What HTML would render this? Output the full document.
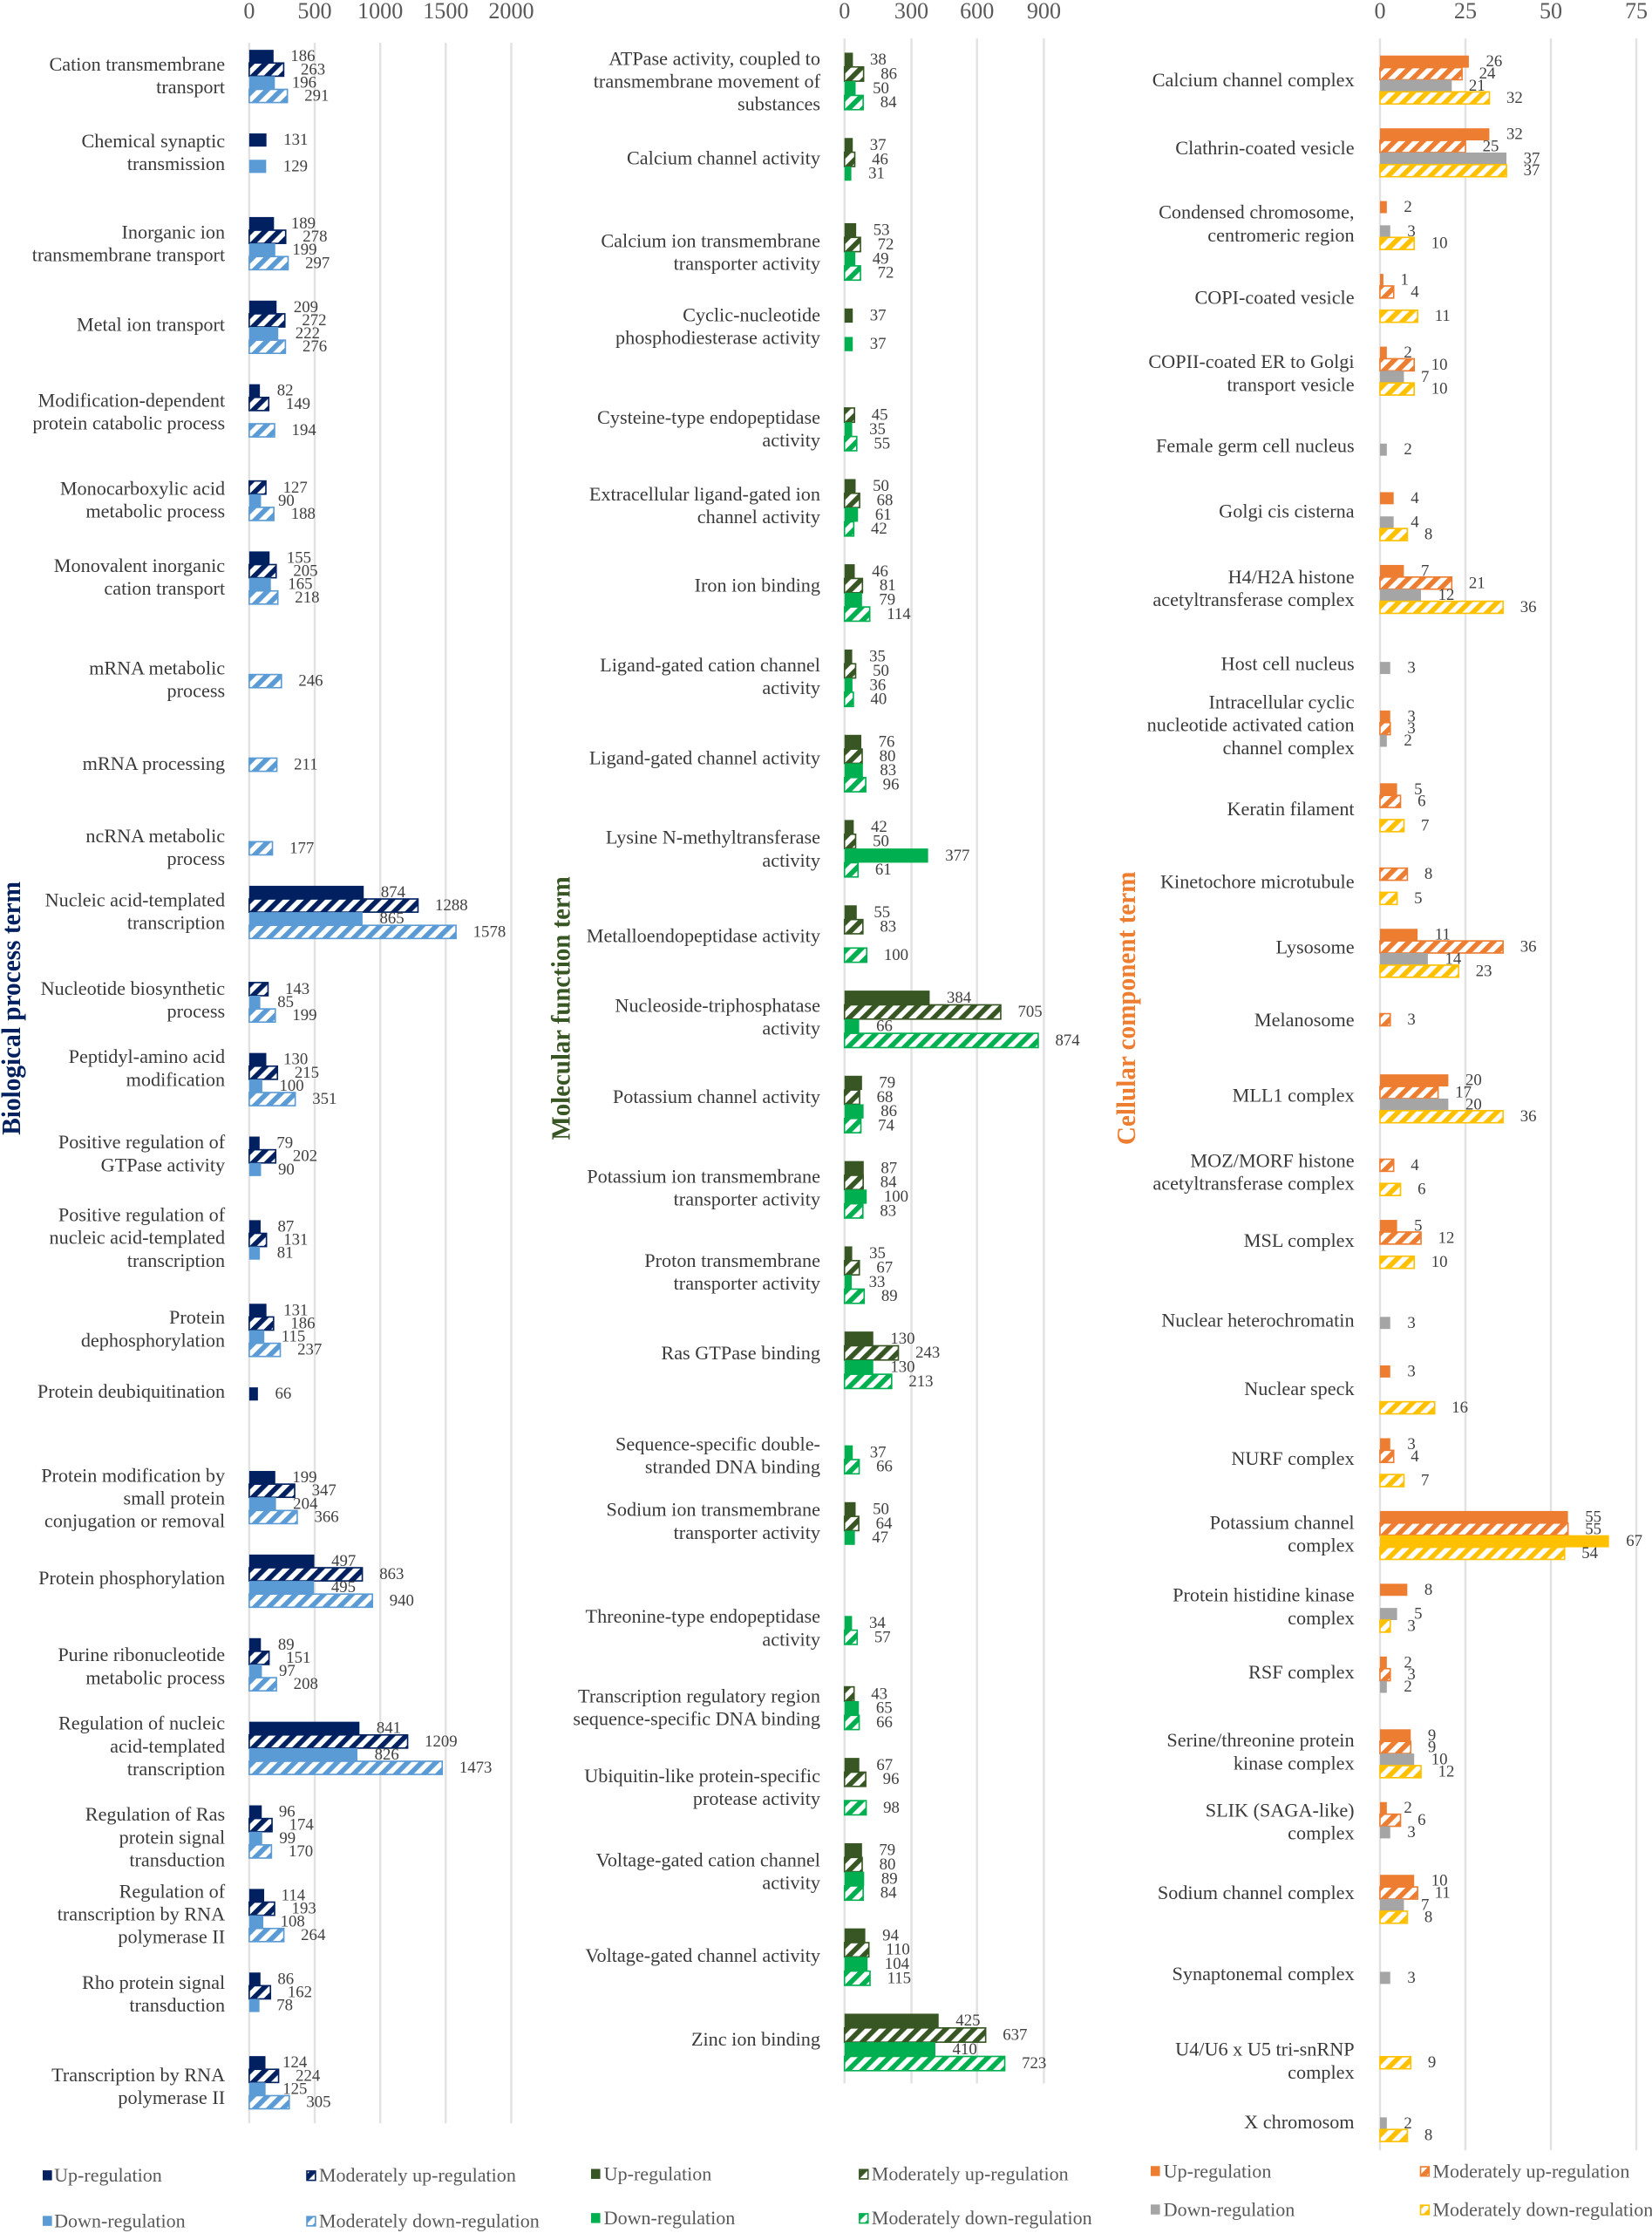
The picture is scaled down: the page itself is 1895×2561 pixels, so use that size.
<!DOCTYPE html>
<html><head><meta charset="utf-8"><style>
html,body{margin:0;padding:0;background:#fff}
svg{display:block}
text{font-family:"Liberation Serif",serif}
.l{font-size:13.6px;fill:#3a3a3a;text-anchor:end}
.v{font-size:11.5px;fill:#404040;dominant-baseline:central}
.t{font-size:16px;fill:#595959;text-anchor:middle}
.g{stroke:#e2e2e2;stroke-width:1.5}
.lg{font-size:13.5px;fill:#595959}
.b0{fill:#002060}.b1{fill:url(#pb1);stroke:#002060;stroke-width:1}.b2{fill:#5B9BD5}.b3{fill:url(#pb3);stroke:#5B9BD5;stroke-width:1}
.m0{fill:#375623}.m1{fill:url(#pm1);stroke:#375623;stroke-width:1}.m2{fill:#00B050}.m3{fill:url(#pm3);stroke:#00B050;stroke-width:1}
.c0{fill:#ED7D31}.c1{fill:url(#pc1);stroke:#ED7D31;stroke-width:1}.c2{fill:#A5A5A5}.c3{fill:url(#pc3);stroke:#FFC000;stroke-width:1}.cy{fill:#FFC000}
</style></head><body>
<svg width="1895" height="2561" viewBox="0 0 1160 1568" preserveAspectRatio="none" xmlns="http://www.w3.org/2000/svg">
<defs>
<pattern id="pb1" width="7" height="7" patternUnits="userSpaceOnUse" patternTransform="rotate(45)"><rect width="7" height="7" fill="#fff"/><rect width="3.5" height="7" fill="#002060"/></pattern>
<pattern id="pb3" width="7" height="7" patternUnits="userSpaceOnUse" patternTransform="rotate(45)"><rect width="7" height="7" fill="#fff"/><rect width="3.5" height="7" fill="#5B9BD5"/></pattern>
<pattern id="pm1" width="7" height="7" patternUnits="userSpaceOnUse" patternTransform="rotate(45)"><rect width="7" height="7" fill="#fff"/><rect width="3.5" height="7" fill="#375623"/></pattern>
<pattern id="pm3" width="7" height="7" patternUnits="userSpaceOnUse" patternTransform="rotate(45)"><rect width="7" height="7" fill="#fff"/><rect width="3.5" height="7" fill="#00B050"/></pattern>
<pattern id="pc1" width="7" height="7" patternUnits="userSpaceOnUse" patternTransform="rotate(45)"><rect width="7" height="7" fill="#fff"/><rect width="3.5" height="7" fill="#ED7D31"/></pattern>
<pattern id="pc3" width="7" height="7" patternUnits="userSpaceOnUse" patternTransform="rotate(45)"><rect width="7" height="7" fill="#fff"/><rect width="3.5" height="7" fill="#FFC000"/></pattern>
</defs>

<!-- ===== BP panel ===== -->
<g>
<line class="g" x1="175" y1="30" x2="175" y2="1491"/><line class="g" x1="221" y1="30" x2="221" y2="1491"/><line class="g" x1="267" y1="30" x2="267" y2="1491"/><line class="g" x1="313" y1="30" x2="313" y2="1491"/><line class="g" x1="359" y1="30" x2="359" y2="1491"/>
<text class="t" x="175" y="13">0</text><text class="t" x="221" y="13">500</text><text class="t" x="267" y="13">1000</text><text class="t" x="313" y="13">1500</text><text class="t" x="359" y="13">2000</text>
<text transform="translate(14,708) rotate(-90)" text-anchor="middle" font-size="19" font-weight="bold" fill="#002060" textLength="178" lengthAdjust="spacingAndGlyphs">Biological process term</text>
</g>
<g transform="translate(175,0)">
<text class="l" x="-17" y="49.5">Cation transmembrane<tspan x="-17" dy="16">transport</tspan></text>
<text class="l" x="-17" y="103.5">Chemical synaptic<tspan x="-17" dy="16">transmission</tspan></text>
<text class="l" x="-17" y="167.5">Inorganic ion<tspan x="-17" dy="16">transmembrane transport</tspan></text>
<text class="l" x="-17" y="232.5">Metal ion transport</text>
<text class="l" x="-17" y="285.5">Modification-dependent<tspan x="-17" dy="16">protein catabolic process</tspan></text>
<text class="l" x="-17" y="347.5">Monocarboxylic acid<tspan x="-17" dy="16">metabolic process</tspan></text>
<text class="l" x="-17" y="401.5">Monovalent inorganic<tspan x="-17" dy="16">cation transport</tspan></text>
<text class="l" x="-17" y="473.5">mRNA metabolic<tspan x="-17" dy="16">process</tspan></text>
<text class="l" x="-17" y="540.5">mRNA processing</text>
<text class="l" x="-17" y="591.5">ncRNA metabolic<tspan x="-17" dy="16">process</tspan></text>
<text class="l" x="-17" y="636.5">Nucleic acid-templated<tspan x="-17" dy="16">transcription</tspan></text>
<text class="l" x="-17" y="698.5">Nucleotide biosynthetic<tspan x="-17" dy="16">process</tspan></text>
<text class="l" x="-17" y="746.5">Peptidyl-amino acid<tspan x="-17" dy="16">modification</tspan></text>
<text class="l" x="-17" y="806.5">Positive regulation of<tspan x="-17" dy="16">GTPase activity</tspan></text>
<text class="l" x="-17" y="857.5">Positive regulation of<tspan x="-17" dy="16">nucleic acid-templated</tspan><tspan x="-17" dy="16">transcription</tspan></text>
<text class="l" x="-17" y="929.5">Protein<tspan x="-17" dy="16">dephosphorylation</tspan></text>
<text class="l" x="-17" y="981.5">Protein deubiquitination</text>
<text class="l" x="-17" y="1040.5">Protein modification by<tspan x="-17" dy="16">small protein</tspan><tspan x="-17" dy="16">conjugation or removal</tspan></text>
<text class="l" x="-17" y="1112.5">Protein phosphorylation</text>
<text class="l" x="-17" y="1166.5">Purine ribonucleotide<tspan x="-17" dy="16">metabolic process</tspan></text>
<text class="l" x="-17" y="1214.5">Regulation of nucleic<tspan x="-17" dy="16">acid-templated</tspan><tspan x="-17" dy="16">transcription</tspan></text>
<text class="l" x="-17" y="1278.5">Regulation of Ras<tspan x="-17" dy="16">protein signal</tspan><tspan x="-17" dy="16">transduction</tspan></text>
<text class="l" x="-17" y="1332.5">Regulation of<tspan x="-17" dy="16">transcription by RNA</tspan><tspan x="-17" dy="16">polymerase II</tspan></text>
<text class="l" x="-17" y="1396.5">Rho protein signal<tspan x="-17" dy="16">transduction</tspan></text>
<text class="l" x="-17" y="1461.5">Transcription by RNA<tspan x="-17" dy="16">polymerase II</tspan></text>

<g transform="translate(0,53.5)"><rect class="b0" y="-18.5" width="17.1" height="9.25"/><rect class="b1" y="-9.25" width="24.2" height="9.25"/><rect class="b2" y="0" width="18" height="9.25"/><rect class="b3" y="9.25" width="26.8" height="9.25"/><text class="v" x="29.1" y="-13.9">186</text><text class="v" x="36.2" y="-4.6">263</text><text class="v" x="30" y="4.6">196</text><text class="v" x="38.8" y="13.9">291</text></g>
<g transform="translate(0,112.2)"><rect class="b0" y="-18.5" width="12.1" height="9.25"/><rect class="b2" y="0" width="11.9" height="9.25"/><text class="v" x="24.1" y="-13.9">131</text><text class="v" x="23.9" y="4.6">129</text></g>
<g transform="translate(0,170.9)"><rect class="b0" y="-18.5" width="17.4" height="9.25"/><rect class="b1" y="-9.25" width="25.6" height="9.25"/><rect class="b2" y="0" width="18.3" height="9.25"/><rect class="b3" y="9.25" width="27.3" height="9.25"/><text class="v" x="29.4" y="-13.9">189</text><text class="v" x="37.6" y="-4.6">278</text><text class="v" x="30.3" y="4.6">199</text><text class="v" x="39.3" y="13.9">297</text></g>
<g transform="translate(0,229.6)"><rect class="b0" y="-18.5" width="19.2" height="9.25"/><rect class="b1" y="-9.25" width="25" height="9.25"/><rect class="b2" y="0" width="20.4" height="9.25"/><rect class="b3" y="9.25" width="25.4" height="9.25"/><text class="v" x="31.2" y="-13.9">209</text><text class="v" x="37" y="-4.6">272</text><text class="v" x="32.4" y="4.6">222</text><text class="v" x="37.4" y="13.9">276</text></g>
<g transform="translate(0,288.3)"><rect class="b0" y="-18.5" width="7.5" height="9.25"/><rect class="b1" y="-9.25" width="13.7" height="9.25"/><rect class="b3" y="9.25" width="17.8" height="9.25"/><text class="v" x="19.5" y="-13.9">82</text><text class="v" x="25.7" y="-4.6">149</text><text class="v" x="29.8" y="13.9">194</text></g>
<g transform="translate(0,347)"><rect class="b1" y="-9.25" width="11.7" height="9.25"/><rect class="b2" y="0" width="8.3" height="9.25"/><rect class="b3" y="9.25" width="17.3" height="9.25"/><text class="v" x="23.7" y="-4.6">127</text><text class="v" x="20.3" y="4.6">90</text><text class="v" x="29.3" y="13.9">188</text></g>
<g transform="translate(0,405.7)"><rect class="b0" y="-18.5" width="14.3" height="9.25"/><rect class="b1" y="-9.25" width="18.9" height="9.25"/><rect class="b2" y="0" width="15.2" height="9.25"/><rect class="b3" y="9.25" width="20.1" height="9.25"/><text class="v" x="26.3" y="-13.9">155</text><text class="v" x="30.9" y="-4.6">205</text><text class="v" x="27.2" y="4.6">165</text><text class="v" x="32.1" y="13.9">218</text></g>
<g transform="translate(0,464.4)"><rect class="b3" y="9.25" width="22.6" height="9.25"/><text class="v" x="34.6" y="13.9">246</text></g>
<g transform="translate(0,523.1)"><rect class="b3" y="9.25" width="19.4" height="9.25"/><text class="v" x="31.4" y="13.9">211</text></g>
<g transform="translate(0,581.8)"><rect class="b3" y="9.25" width="16.3" height="9.25"/><text class="v" x="28.3" y="13.9">177</text></g>
<g transform="translate(0,640.5)"><rect class="b0" y="-18.5" width="80.4" height="9.25"/><rect class="b1" y="-9.25" width="118.5" height="9.25"/><rect class="b2" y="0" width="79.6" height="9.25"/><rect class="b3" y="9.25" width="145.2" height="9.25"/><text class="v" x="92.4" y="-13.9">874</text><text class="v" x="130.5" y="-4.6">1288</text><text class="v" x="91.6" y="4.6">865</text><text class="v" x="157.2" y="13.9">1578</text></g>
<g transform="translate(0,699.2)"><rect class="b1" y="-9.25" width="13.2" height="9.25"/><rect class="b2" y="0" width="7.8" height="9.25"/><rect class="b3" y="9.25" width="18.3" height="9.25"/><text class="v" x="25.2" y="-4.6">143</text><text class="v" x="19.8" y="4.6">85</text><text class="v" x="30.3" y="13.9">199</text></g>
<g transform="translate(0,757.9)"><rect class="b0" y="-18.5" width="12" height="9.25"/><rect class="b1" y="-9.25" width="19.8" height="9.25"/><rect class="b2" y="0" width="9.2" height="9.25"/><rect class="b3" y="9.25" width="32.3" height="9.25"/><text class="v" x="24" y="-13.9">130</text><text class="v" x="31.8" y="-4.6">215</text><text class="v" x="21.2" y="4.6">100</text><text class="v" x="44.3" y="13.9">351</text></g>
<g transform="translate(0,816.6)"><rect class="b0" y="-18.5" width="7.3" height="9.25"/><rect class="b1" y="-9.25" width="18.6" height="9.25"/><rect class="b2" y="0" width="8.3" height="9.25"/><text class="v" x="19.3" y="-13.9">79</text><text class="v" x="30.6" y="-4.6">202</text><text class="v" x="20.3" y="4.6">90</text></g>
<g transform="translate(0,875.3)"><rect class="b0" y="-18.5" width="8" height="9.25"/><rect class="b1" y="-9.25" width="12.1" height="9.25"/><rect class="b2" y="0" width="7.5" height="9.25"/><text class="v" x="20" y="-13.9">87</text><text class="v" x="24.1" y="-4.6">131</text><text class="v" x="19.5" y="4.6">81</text></g>
<g transform="translate(0,934)"><rect class="b0" y="-18.5" width="12.1" height="9.25"/><rect class="b1" y="-9.25" width="17.1" height="9.25"/><rect class="b2" y="0" width="10.6" height="9.25"/><rect class="b3" y="9.25" width="21.8" height="9.25"/><text class="v" x="24.1" y="-13.9">131</text><text class="v" x="29.1" y="-4.6">186</text><text class="v" x="22.6" y="4.6">115</text><text class="v" x="33.8" y="13.9">237</text></g>
<g transform="translate(0,992.7)"><rect class="b0" y="-18.5" width="6.1" height="9.25"/><text class="v" x="18.1" y="-13.9">66</text></g>
<g transform="translate(0,1051.4)"><rect class="b0" y="-18.5" width="18.3" height="9.25"/><rect class="b1" y="-9.25" width="31.9" height="9.25"/><rect class="b2" y="0" width="18.8" height="9.25"/><rect class="b3" y="9.25" width="33.7" height="9.25"/><text class="v" x="30.3" y="-13.9">199</text><text class="v" x="43.9" y="-4.6">347</text><text class="v" x="30.8" y="4.6">204</text><text class="v" x="45.7" y="13.9">366</text></g>
<g transform="translate(0,1110.1)"><rect class="b0" y="-18.5" width="45.7" height="9.25"/><rect class="b1" y="-9.25" width="79.4" height="9.25"/><rect class="b2" y="0" width="45.5" height="9.25"/><rect class="b3" y="9.25" width="86.5" height="9.25"/><text class="v" x="57.7" y="-13.9">497</text><text class="v" x="91.4" y="-4.6">863</text><text class="v" x="57.5" y="4.6">495</text><text class="v" x="98.5" y="13.9">940</text></g>
<g transform="translate(0,1168.8)"><rect class="b0" y="-18.5" width="8.2" height="9.25"/><rect class="b1" y="-9.25" width="13.9" height="9.25"/><rect class="b2" y="0" width="8.9" height="9.25"/><rect class="b3" y="9.25" width="19.1" height="9.25"/><text class="v" x="20.2" y="-13.9">89</text><text class="v" x="25.9" y="-4.6">151</text><text class="v" x="20.9" y="4.6">97</text><text class="v" x="31.1" y="13.9">208</text></g>
<g transform="translate(0,1227.5)"><rect class="b0" y="-18.5" width="77.4" height="9.25"/><rect class="b1" y="-9.25" width="111.2" height="9.25"/><rect class="b2" y="0" width="76" height="9.25"/><rect class="b3" y="9.25" width="135.5" height="9.25"/><text class="v" x="89.4" y="-13.9">841</text><text class="v" x="123.2" y="-4.6">1209</text><text class="v" x="88" y="4.6">826</text><text class="v" x="147.5" y="13.9">1473</text></g>
<g transform="translate(0,1286.2)"><rect class="b0" y="-18.5" width="8.8" height="9.25"/><rect class="b1" y="-9.25" width="16" height="9.25"/><rect class="b2" y="0" width="9.1" height="9.25"/><rect class="b3" y="9.25" width="15.6" height="9.25"/><text class="v" x="20.8" y="-13.9">96</text><text class="v" x="28" y="-4.6">174</text><text class="v" x="21.1" y="4.6">99</text><text class="v" x="27.6" y="13.9">170</text></g>
<g transform="translate(0,1344.9)"><rect class="b0" y="-18.5" width="10.5" height="9.25"/><rect class="b1" y="-9.25" width="17.8" height="9.25"/><rect class="b2" y="0" width="9.9" height="9.25"/><rect class="b3" y="9.25" width="24.3" height="9.25"/><text class="v" x="22.5" y="-13.9">114</text><text class="v" x="29.8" y="-4.6">193</text><text class="v" x="21.9" y="4.6">108</text><text class="v" x="36.3" y="13.9">264</text></g>
<g transform="translate(0,1403.6)"><rect class="b0" y="-18.5" width="7.9" height="9.25"/><rect class="b1" y="-9.25" width="14.9" height="9.25"/><rect class="b2" y="0" width="7.2" height="9.25"/><text class="v" x="19.9" y="-13.9">86</text><text class="v" x="26.9" y="-4.6">162</text><text class="v" x="19.2" y="4.6">78</text></g>
<g transform="translate(0,1462.3)"><rect class="b0" y="-18.5" width="11.4" height="9.25"/><rect class="b1" y="-9.25" width="20.6" height="9.25"/><rect class="b2" y="0" width="11.5" height="9.25"/><rect class="b3" y="9.25" width="28.1" height="9.25"/><text class="v" x="23.4" y="-13.9">124</text><text class="v" x="32.6" y="-4.6">224</text><text class="v" x="23.5" y="4.6">125</text><text class="v" x="40.1" y="13.9">305</text></g>
</g>

<!-- ===== MF panel ===== -->
<g>
<line class="g" x1="593" y1="27" x2="593" y2="1463"/><line class="g" x1="640" y1="27" x2="640" y2="1463"/><line class="g" x1="686" y1="27" x2="686" y2="1463"/><line class="g" x1="733" y1="27" x2="733" y2="1463"/>
<text class="t" x="593" y="13">0</text><text class="t" x="640" y="13">300</text><text class="t" x="686" y="13">600</text><text class="t" x="733" y="13">900</text>
<text transform="translate(400,708) rotate(-90)" text-anchor="middle" font-size="19" font-weight="bold" fill="#375623" textLength="185" lengthAdjust="spacingAndGlyphs">Molecular function term</text>
</g>
<g transform="translate(593,0)">
<text class="l" x="-17" y="45.5">ATPase activity, coupled to<tspan x="-17" dy="16">transmembrane movement of</tspan><tspan x="-17" dy="16">substances</tspan></text>
<text class="l" x="-17" y="115.5">Calcium channel activity</text>
<text class="l" x="-17" y="173.5">Calcium ion transmembrane<tspan x="-17" dy="16">transporter activity</tspan></text>
<text class="l" x="-17" y="225.5">Cyclic-nucleotide<tspan x="-17" dy="16">phosphodiesterase activity</tspan></text>
<text class="l" x="-17" y="297.5">Cysteine-type endopeptidase<tspan x="-17" dy="16">activity</tspan></text>
<text class="l" x="-17" y="351.5">Extracellular ligand-gated ion<tspan x="-17" dy="16">channel activity</tspan></text>
<text class="l" x="-17" y="415.5">Iron ion binding</text>
<text class="l" x="-17" y="471.5">Ligand-gated cation channel<tspan x="-17" dy="16">activity</tspan></text>
<text class="l" x="-17" y="536.5">Ligand-gated channel activity</text>
<text class="l" x="-17" y="592.5">Lysine N-methyltransferase<tspan x="-17" dy="16">activity</tspan></text>
<text class="l" x="-17" y="661.5">Metalloendopeptidase activity</text>
<text class="l" x="-17" y="710.5">Nucleoside-triphosphatase<tspan x="-17" dy="16">activity</tspan></text>
<text class="l" x="-17" y="774.5">Potassium channel activity</text>
<text class="l" x="-17" y="830.5">Potassium ion transmembrane<tspan x="-17" dy="16">transporter activity</tspan></text>
<text class="l" x="-17" y="889.5">Proton transmembrane<tspan x="-17" dy="16">transporter activity</tspan></text>
<text class="l" x="-17" y="954.5">Ras GTPase binding</text>
<text class="l" x="-17" y="1018.5">Sequence-specific double-<tspan x="-17" dy="16">stranded DNA binding</tspan></text>
<text class="l" x="-17" y="1064.5">Sodium ion transmembrane<tspan x="-17" dy="16">transporter activity</tspan></text>
<text class="l" x="-17" y="1139.5">Threonine-type endopeptidase<tspan x="-17" dy="16">activity</tspan></text>
<text class="l" x="-17" y="1195.5">Transcription regulatory region<tspan x="-17" dy="16">sequence-specific DNA binding</tspan></text>
<text class="l" x="-17" y="1251.5">Ubiquitin-like protein-specific<tspan x="-17" dy="16">protease activity</tspan></text>
<text class="l" x="-17" y="1310.5">Voltage-gated cation channel<tspan x="-17" dy="16">activity</tspan></text>
<text class="l" x="-17" y="1377.5">Voltage-gated channel activity</text>
<text class="l" x="-17" y="1436.5">Zinc ion binding</text>

<g transform="translate(0,57)"><rect class="m0" y="-20" width="5.9" height="10"/><rect class="m1" y="-10" width="13.4" height="10"/><rect class="m2" y="0" width="7.8" height="10"/><rect class="m3" y="10" width="13.1" height="10"/><text class="v" x="17.9" y="-15">38</text><text class="v" x="25.4" y="-5">86</text><text class="v" x="19.8" y="5">50</text><text class="v" x="25.1" y="15">84</text></g>
<g transform="translate(0,116.9)"><rect class="m0" y="-20" width="5.8" height="10"/><rect class="m1" y="-10" width="7.2" height="10"/><rect class="m2" y="0" width="4.8" height="10"/><text class="v" x="17.8" y="-15">37</text><text class="v" x="19.2" y="-5">46</text><text class="v" x="16.8" y="5">31</text></g>
<g transform="translate(0,176.7)"><rect class="m0" y="-20" width="8.2" height="10"/><rect class="m1" y="-10" width="11.2" height="10"/><rect class="m2" y="0" width="7.6" height="10"/><rect class="m3" y="10" width="11.2" height="10"/><text class="v" x="20.2" y="-15">53</text><text class="v" x="23.2" y="-5">72</text><text class="v" x="19.6" y="5">49</text><text class="v" x="23.2" y="15">72</text></g>
<g transform="translate(0,236.6)"><rect class="m0" y="-20" width="5.8" height="10"/><rect class="m2" y="0" width="5.8" height="10"/><text class="v" x="17.8" y="-15">37</text><text class="v" x="17.8" y="5">37</text></g>
<g transform="translate(0,296.5)"><rect class="m1" y="-10" width="7" height="10"/><rect class="m2" y="0" width="5.4" height="10"/><rect class="m3" y="10" width="8.6" height="10"/><text class="v" x="19" y="-5">45</text><text class="v" x="17.4" y="5">35</text><text class="v" x="20.6" y="15">55</text></g>
<g transform="translate(0,356.4)"><rect class="m0" y="-20" width="7.8" height="10"/><rect class="m1" y="-10" width="10.6" height="10"/><rect class="m2" y="0" width="9.5" height="10"/><rect class="m3" y="10" width="6.5" height="10"/><text class="v" x="19.8" y="-15">50</text><text class="v" x="22.6" y="-5">68</text><text class="v" x="21.5" y="5">61</text><text class="v" x="18.5" y="15">42</text></g>
<g transform="translate(0,416.2)"><rect class="m0" y="-20" width="7.2" height="10"/><rect class="m1" y="-10" width="12.6" height="10"/><rect class="m2" y="0" width="12.3" height="10"/><rect class="m3" y="10" width="17.7" height="10"/><text class="v" x="19.2" y="-15">46</text><text class="v" x="24.6" y="-5">81</text><text class="v" x="24.3" y="5">79</text><text class="v" x="29.7" y="15">114</text></g>
<g transform="translate(0,476.1)"><rect class="m0" y="-20" width="5.4" height="10"/><rect class="m1" y="-10" width="7.8" height="10"/><rect class="m2" y="0" width="5.6" height="10"/><rect class="m3" y="10" width="6.2" height="10"/><text class="v" x="17.4" y="-15">35</text><text class="v" x="19.8" y="-5">50</text><text class="v" x="17.6" y="5">36</text><text class="v" x="18.2" y="15">40</text></g>
<g transform="translate(0,536)"><rect class="m0" y="-20" width="11.8" height="10"/><rect class="m1" y="-10" width="12.4" height="10"/><rect class="m2" y="0" width="12.9" height="10"/><rect class="m3" y="10" width="14.9" height="10"/><text class="v" x="23.8" y="-15">76</text><text class="v" x="24.4" y="-5">80</text><text class="v" x="24.9" y="5">83</text><text class="v" x="26.9" y="15">96</text></g>
<g transform="translate(0,595.8)"><rect class="m0" y="-20" width="6.5" height="10"/><rect class="m1" y="-10" width="7.8" height="10"/><rect class="m2" y="0" width="58.7" height="10"/><rect class="m3" y="10" width="9.5" height="10"/><text class="v" x="18.5" y="-15">42</text><text class="v" x="19.8" y="-5">50</text><text class="v" x="70.7" y="5">377</text><text class="v" x="21.5" y="15">61</text></g>
<g transform="translate(0,655.7)"><rect class="m0" y="-20" width="8.6" height="10"/><rect class="m1" y="-10" width="12.9" height="10"/><rect class="m3" y="10" width="15.6" height="10"/><text class="v" x="20.6" y="-15">55</text><text class="v" x="24.9" y="-5">83</text><text class="v" x="27.6" y="15">100</text></g>
<g transform="translate(0,715.6)"><rect class="m0" y="-20" width="59.8" height="10"/><rect class="m1" y="-10" width="109.7" height="10"/><rect class="m2" y="0" width="10.3" height="10"/><rect class="m3" y="10" width="136" height="10"/><text class="v" x="71.8" y="-15">384</text><text class="v" x="121.7" y="-5">705</text><text class="v" x="22.3" y="5">66</text><text class="v" x="148" y="15">874</text></g>
<g transform="translate(0,775.4)"><rect class="m0" y="-20" width="12.3" height="10"/><rect class="m1" y="-10" width="10.6" height="10"/><rect class="m2" y="0" width="13.4" height="10"/><rect class="m3" y="10" width="11.5" height="10"/><text class="v" x="24.3" y="-15">79</text><text class="v" x="22.6" y="-5">68</text><text class="v" x="25.4" y="5">86</text><text class="v" x="23.5" y="15">74</text></g>
<g transform="translate(0,835.3)"><rect class="m0" y="-20" width="13.5" height="10"/><rect class="m1" y="-10" width="13.1" height="10"/><rect class="m2" y="0" width="15.6" height="10"/><rect class="m3" y="10" width="12.9" height="10"/><text class="v" x="25.5" y="-15">87</text><text class="v" x="25.1" y="-5">84</text><text class="v" x="27.6" y="5">100</text><text class="v" x="24.9" y="15">83</text></g>
<g transform="translate(0,895.2)"><rect class="m0" y="-20" width="5.4" height="10"/><rect class="m1" y="-10" width="10.4" height="10"/><rect class="m2" y="0" width="5.1" height="10"/><rect class="m3" y="10" width="13.8" height="10"/><text class="v" x="17.4" y="-15">35</text><text class="v" x="22.4" y="-5">67</text><text class="v" x="17.1" y="5">33</text><text class="v" x="25.8" y="15">89</text></g>
<g transform="translate(0,955)"><rect class="m0" y="-20" width="20.2" height="10"/><rect class="m1" y="-10" width="37.8" height="10"/><rect class="m2" y="0" width="20.2" height="10"/><rect class="m3" y="10" width="33.1" height="10"/><text class="v" x="32.2" y="-15">130</text><text class="v" x="49.8" y="-5">243</text><text class="v" x="32.2" y="5">130</text><text class="v" x="45.1" y="15">213</text></g>
<g transform="translate(0,1014.9)"><rect class="m2" y="0" width="5.8" height="10"/><rect class="m3" y="10" width="10.3" height="10"/><text class="v" x="17.8" y="5">37</text><text class="v" x="22.3" y="15">66</text></g>
<g transform="translate(0,1074.8)"><rect class="m0" y="-20" width="7.8" height="10"/><rect class="m1" y="-10" width="10" height="10"/><rect class="m2" y="0" width="7.3" height="10"/><text class="v" x="19.8" y="-15">50</text><text class="v" x="22" y="-5">64</text><text class="v" x="19.3" y="5">47</text></g>
<g transform="translate(0,1134.7)"><rect class="m2" y="0" width="5.3" height="10"/><rect class="m3" y="10" width="8.9" height="10"/><text class="v" x="17.3" y="5">34</text><text class="v" x="20.9" y="15">57</text></g>
<g transform="translate(0,1194.5)"><rect class="m1" y="-10" width="6.7" height="10"/><rect class="m2" y="0" width="10.1" height="10"/><rect class="m3" y="10" width="10.3" height="10"/><text class="v" x="18.7" y="-5">43</text><text class="v" x="22.1" y="5">65</text><text class="v" x="22.3" y="15">66</text></g>
<g transform="translate(0,1254.4)"><rect class="m0" y="-20" width="10.4" height="10"/><rect class="m1" y="-10" width="14.9" height="10"/><rect class="m3" y="10" width="15.2" height="10"/><text class="v" x="22.4" y="-15">67</text><text class="v" x="26.9" y="-5">96</text><text class="v" x="27.2" y="15">98</text></g>
<g transform="translate(0,1314.3)"><rect class="m0" y="-20" width="12.3" height="10"/><rect class="m1" y="-10" width="12.4" height="10"/><rect class="m2" y="0" width="13.8" height="10"/><rect class="m3" y="10" width="13.1" height="10"/><text class="v" x="24.3" y="-15">79</text><text class="v" x="24.4" y="-5">80</text><text class="v" x="25.8" y="5">89</text><text class="v" x="25.1" y="15">84</text></g>
<g transform="translate(0,1374.1)"><rect class="m0" y="-20" width="14.6" height="10"/><rect class="m1" y="-10" width="17.1" height="10"/><rect class="m2" y="0" width="16.2" height="10"/><rect class="m3" y="10" width="17.9" height="10"/><text class="v" x="26.6" y="-15">94</text><text class="v" x="29.1" y="-5">110</text><text class="v" x="28.2" y="5">104</text><text class="v" x="29.9" y="15">115</text></g>
<g transform="translate(0,1434)"><rect class="m0" y="-20" width="66.1" height="10"/><rect class="m1" y="-10" width="99.1" height="10"/><rect class="m2" y="0" width="63.8" height="10"/><rect class="m3" y="10" width="112.5" height="10"/><text class="v" x="78.1" y="-15">425</text><text class="v" x="111.1" y="-5">637</text><text class="v" x="75.8" y="5">410</text><text class="v" x="124.5" y="15">723</text></g>
</g>

<!-- ===== CC panel ===== -->
<g>
<line class="g" x1="969" y1="27" x2="969" y2="1510"/><line class="g" x1="1029" y1="27" x2="1029" y2="1510"/><line class="g" x1="1089" y1="27" x2="1089" y2="1510"/><line class="g" x1="1149" y1="27" x2="1149" y2="1510"/>
<text class="t" x="969" y="13">0</text><text class="t" x="1029" y="13">25</text><text class="t" x="1089" y="13">50</text><text class="t" x="1149" y="13">75</text>
<text transform="translate(797,708) rotate(-90)" text-anchor="middle" font-size="19" font-weight="bold" fill="#ED7D31" textLength="192" lengthAdjust="spacingAndGlyphs">Cellular component term</text>
</g>
<g transform="translate(969,0)">
<text class="l" x="-18" y="60.5">Calcium channel complex</text>
<text class="l" x="-18" y="108.5">Clathrin-coated vesicle</text>
<text class="l" x="-18" y="153.5">Condensed chromosome,<tspan x="-18" dy="16">centromeric region</tspan></text>
<text class="l" x="-18" y="213.5">COPI-coated vesicle</text>
<text class="l" x="-18" y="258.5">COPII-coated ER to Golgi<tspan x="-18" dy="16">transport vesicle</tspan></text>
<text class="l" x="-18" y="317.5">Female germ cell nucleus</text>
<text class="l" x="-18" y="363.5">Golgi cis cisterna</text>
<text class="l" x="-18" y="409.5">H4/H2A histone<tspan x="-18" dy="16">acetyltransferase complex</tspan></text>
<text class="l" x="-18" y="470.5">Host cell nucleus</text>
<text class="l" x="-18" y="497.5">Intracellular cyclic<tspan x="-18" dy="16">nucleotide activated cation</tspan><tspan x="-18" dy="16">channel complex</tspan></text>
<text class="l" x="-18" y="572.5">Keratin filament</text>
<text class="l" x="-18" y="623.5">Kinetochore microtubule</text>
<text class="l" x="-18" y="669.5">Lysosome</text>
<text class="l" x="-18" y="720.5">Melanosome</text>
<text class="l" x="-18" y="773.5">MLL1 complex</text>
<text class="l" x="-18" y="819.5">MOZ/MORF histone<tspan x="-18" dy="16">acetyltransferase complex</tspan></text>
<text class="l" x="-18" y="875.5">MSL complex</text>
<text class="l" x="-18" y="931.5">Nuclear heterochromatin</text>
<text class="l" x="-18" y="979.5">Nuclear speck</text>
<text class="l" x="-18" y="1028.5">NURF complex</text>
<text class="l" x="-18" y="1073.5">Potassium channel<tspan x="-18" dy="16">complex</tspan></text>
<text class="l" x="-18" y="1124.5">Protein histidine kinase<tspan x="-18" dy="16">complex</tspan></text>
<text class="l" x="-18" y="1178.5">RSF complex</text>
<text class="l" x="-18" y="1226.5">Serine/threonine protein<tspan x="-18" dy="16">kinase complex</tspan></text>
<text class="l" x="-18" y="1275.5">SLIK (SAGA-like)<tspan x="-18" dy="16">complex</tspan></text>
<text class="l" x="-18" y="1333.5">Sodium channel complex</text>
<text class="l" x="-18" y="1390.5">Synaptonemal complex</text>
<text class="l" x="-18" y="1443.5">U4/U6 x U5 tri-snRNP<tspan x="-18" dy="16">complex</tspan></text>
<text class="l" x="-18" y="1494.5">X chromosom</text>

<g transform="translate(0,56)"><rect class="c0" y="-17" width="62.4" height="8.5"/><rect class="c1" y="-8.5" width="57.6" height="8.5"/><rect class="c2" y="0" width="50.4" height="8.5"/><rect class="c3" y="8.5" width="76.8" height="8.5"/><text class="v" x="74.4" y="-12.75">26</text><text class="v" x="69.6" y="-4.25">24</text><text class="v" x="62.4" y="4.25">21</text><text class="v" x="88.8" y="12.75">32</text></g>
<g transform="translate(0,107.1)"><rect class="c0" y="-17" width="76.8" height="8.5"/><rect class="c1" y="-8.5" width="60" height="8.5"/><rect class="c2" y="0" width="88.8" height="8.5"/><rect class="c3" y="8.5" width="88.8" height="8.5"/><text class="v" x="88.8" y="-12.75">32</text><text class="v" x="72" y="-4.25">25</text><text class="v" x="100.8" y="4.25">37</text><text class="v" x="100.8" y="12.75">37</text></g>
<g transform="translate(0,158.2)"><rect class="c0" y="-17" width="4.8" height="8.5"/><rect class="c2" y="0" width="7.2" height="8.5"/><rect class="c3" y="8.5" width="24" height="8.5"/><text class="v" x="16.8" y="-12.75">2</text><text class="v" x="19.2" y="4.25">3</text><text class="v" x="36" y="12.75">10</text></g>
<g transform="translate(0,209.3)"><rect class="c0" y="-17" width="2.4" height="8.5"/><rect class="c1" y="-8.5" width="9.6" height="8.5"/><rect class="c3" y="8.5" width="26.4" height="8.5"/><text class="v" x="14.4" y="-12.75">1</text><text class="v" x="21.6" y="-4.25">4</text><text class="v" x="38.4" y="12.75">11</text></g>
<g transform="translate(0,260.4)"><rect class="c0" y="-17" width="4.8" height="8.5"/><rect class="c1" y="-8.5" width="24" height="8.5"/><rect class="c2" y="0" width="16.8" height="8.5"/><rect class="c3" y="8.5" width="24" height="8.5"/><text class="v" x="16.8" y="-12.75">2</text><text class="v" x="36" y="-4.25">10</text><text class="v" x="28.8" y="4.25">7</text><text class="v" x="36" y="12.75">10</text></g>
<g transform="translate(0,311.5)"><rect class="c2" y="0" width="4.8" height="8.5"/><text class="v" x="16.8" y="4.25">2</text></g>
<g transform="translate(0,362.6)"><rect class="c0" y="-17" width="9.6" height="8.5"/><rect class="c2" y="0" width="9.6" height="8.5"/><rect class="c3" y="8.5" width="19.2" height="8.5"/><text class="v" x="21.6" y="-12.75">4</text><text class="v" x="21.6" y="4.25">4</text><text class="v" x="31.2" y="12.75">8</text></g>
<g transform="translate(0,413.7)"><rect class="c0" y="-17" width="16.8" height="8.5"/><rect class="c1" y="-8.5" width="50.4" height="8.5"/><rect class="c2" y="0" width="28.8" height="8.5"/><rect class="c3" y="8.5" width="86.4" height="8.5"/><text class="v" x="28.8" y="-12.75">7</text><text class="v" x="62.4" y="-4.25">21</text><text class="v" x="40.8" y="4.25">12</text><text class="v" x="98.4" y="12.75">36</text></g>
<g transform="translate(0,464.8)"><rect class="c2" y="0" width="7.2" height="8.5"/><text class="v" x="19.2" y="4.25">3</text></g>
<g transform="translate(0,515.9)"><rect class="c0" y="-17" width="7.2" height="8.5"/><rect class="c1" y="-8.5" width="7.2" height="8.5"/><rect class="c2" y="0" width="4.8" height="8.5"/><text class="v" x="19.2" y="-12.75">3</text><text class="v" x="19.2" y="-4.25">3</text><text class="v" x="16.8" y="4.25">2</text></g>
<g transform="translate(0,567)"><rect class="c0" y="-17" width="12" height="8.5"/><rect class="c1" y="-8.5" width="14.4" height="8.5"/><rect class="c3" y="8.5" width="16.8" height="8.5"/><text class="v" x="24" y="-12.75">5</text><text class="v" x="26.4" y="-4.25">6</text><text class="v" x="28.8" y="12.75">7</text></g>
<g transform="translate(0,618.1)"><rect class="c1" y="-8.5" width="19.2" height="8.5"/><rect class="c3" y="8.5" width="12" height="8.5"/><text class="v" x="31.2" y="-4.25">8</text><text class="v" x="24" y="12.75">5</text></g>
<g transform="translate(0,669.2)"><rect class="c0" y="-17" width="26.4" height="8.5"/><rect class="c1" y="-8.5" width="86.4" height="8.5"/><rect class="c2" y="0" width="33.6" height="8.5"/><rect class="c3" y="8.5" width="55.2" height="8.5"/><text class="v" x="38.4" y="-12.75">11</text><text class="v" x="98.4" y="-4.25">36</text><text class="v" x="45.6" y="4.25">14</text><text class="v" x="67.2" y="12.75">23</text></g>
<g transform="translate(0,720.3)"><rect class="c1" y="-8.5" width="7.2" height="8.5"/><text class="v" x="19.2" y="-4.25">3</text></g>
<g transform="translate(0,771.4)"><rect class="c0" y="-17" width="48" height="8.5"/><rect class="c1" y="-8.5" width="40.8" height="8.5"/><rect class="c2" y="0" width="48" height="8.5"/><rect class="c3" y="8.5" width="86.4" height="8.5"/><text class="v" x="60" y="-12.75">20</text><text class="v" x="52.8" y="-4.25">17</text><text class="v" x="60" y="4.25">20</text><text class="v" x="98.4" y="12.75">36</text></g>
<g transform="translate(0,822.5)"><rect class="c1" y="-8.5" width="9.6" height="8.5"/><rect class="c3" y="8.5" width="14.4" height="8.5"/><text class="v" x="21.6" y="-4.25">4</text><text class="v" x="26.4" y="12.75">6</text></g>
<g transform="translate(0,873.6)"><rect class="c0" y="-17" width="12" height="8.5"/><rect class="c1" y="-8.5" width="28.8" height="8.5"/><rect class="c3" y="8.5" width="24" height="8.5"/><text class="v" x="24" y="-12.75">5</text><text class="v" x="40.8" y="-4.25">12</text><text class="v" x="36" y="12.75">10</text></g>
<g transform="translate(0,924.7)"><rect class="c2" y="0" width="7.2" height="8.5"/><text class="v" x="19.2" y="4.25">3</text></g>
<g transform="translate(0,975.8)"><rect class="c0" y="-17" width="7.2" height="8.5"/><rect class="c3" y="8.5" width="38.4" height="8.5"/><text class="v" x="19.2" y="-12.75">3</text><text class="v" x="50.4" y="12.75">16</text></g>
<g transform="translate(0,1026.9)"><rect class="c0" y="-17" width="7.2" height="8.5"/><rect class="c1" y="-8.5" width="9.6" height="8.5"/><rect class="c3" y="8.5" width="16.8" height="8.5"/><text class="v" x="19.2" y="-12.75">3</text><text class="v" x="21.6" y="-4.25">4</text><text class="v" x="28.8" y="12.75">7</text></g>
<g transform="translate(0,1078)"><rect class="c0" y="-17" width="132" height="8.5"/><rect class="c1" y="-8.5" width="132" height="8.5"/><rect class="cy" y="0" width="160.8" height="8.5"/><rect class="c3" y="8.5" width="129.6" height="8.5"/><text class="v" x="144" y="-12.75">55</text><text class="v" x="144" y="-4.25">55</text><text class="v" x="172.8" y="4.25">67</text><text class="v" x="141.6" y="12.75">54</text></g>
<g transform="translate(0,1129.1)"><rect class="c0" y="-17" width="19.2" height="8.5"/><rect class="c2" y="0" width="12" height="8.5"/><rect class="c3" y="8.5" width="7.2" height="8.5"/><text class="v" x="31.2" y="-12.75">8</text><text class="v" x="24" y="4.25">5</text><text class="v" x="19.2" y="12.75">3</text></g>
<g transform="translate(0,1180.2)"><rect class="c0" y="-17" width="4.8" height="8.5"/><rect class="c1" y="-8.5" width="7.2" height="8.5"/><rect class="c2" y="0" width="4.8" height="8.5"/><text class="v" x="16.8" y="-12.75">2</text><text class="v" x="19.2" y="-4.25">3</text><text class="v" x="16.8" y="4.25">2</text></g>
<g transform="translate(0,1231.3)"><rect class="c0" y="-17" width="21.6" height="8.5"/><rect class="c1" y="-8.5" width="21.6" height="8.5"/><rect class="c2" y="0" width="24" height="8.5"/><rect class="c3" y="8.5" width="28.8" height="8.5"/><text class="v" x="33.6" y="-12.75">9</text><text class="v" x="33.6" y="-4.25">9</text><text class="v" x="36" y="4.25">10</text><text class="v" x="40.8" y="12.75">12</text></g>
<g transform="translate(0,1282.4)"><rect class="c0" y="-17" width="4.8" height="8.5"/><rect class="c1" y="-8.5" width="14.4" height="8.5"/><rect class="c2" y="0" width="7.2" height="8.5"/><text class="v" x="16.8" y="-12.75">2</text><text class="v" x="26.4" y="-4.25">6</text><text class="v" x="19.2" y="4.25">3</text></g>
<g transform="translate(0,1333.5)"><rect class="c0" y="-17" width="24" height="8.5"/><rect class="c1" y="-8.5" width="26.4" height="8.5"/><rect class="c2" y="0" width="16.8" height="8.5"/><rect class="c3" y="8.5" width="19.2" height="8.5"/><text class="v" x="36" y="-12.75">10</text><text class="v" x="38.4" y="-4.25">11</text><text class="v" x="28.8" y="4.25">7</text><text class="v" x="31.2" y="12.75">8</text></g>
<g transform="translate(0,1384.6)"><rect class="c2" y="0" width="7.2" height="8.5"/><text class="v" x="19.2" y="4.25">3</text></g>
<g transform="translate(0,1435.7)"><rect class="c3" y="8.5" width="21.6" height="8.5"/><text class="v" x="33.6" y="12.75">9</text></g>
<g transform="translate(0,1486.8)"><rect class="c2" y="0" width="4.8" height="8.5"/><rect class="c3" y="8.5" width="19.2" height="8.5"/><text class="v" x="16.8" y="4.25">2</text><text class="v" x="31.2" y="12.75">8</text></g>
</g>

<!-- ===== Legends ===== -->
<g>
<rect class="b0" x="30" y="1524" width="6.5" height="7"/><text class="lg" x="38" y="1532">Up-regulation</text>
<rect class="b1" x="215.5" y="1524.5" width="6" height="6.5"/><text class="lg" x="224" y="1532">Moderately up-regulation</text>
<rect class="b2" x="30" y="1556" width="6.5" height="7"/><text class="lg" x="38" y="1564">Down-regulation</text>
<rect class="b3" x="215.5" y="1556.5" width="6" height="6.5"/><text class="lg" x="224" y="1564">Moderately down-regulation</text>

<rect class="m0" x="415" y="1523" width="6.5" height="7"/><text class="lg" x="424" y="1531">Up-regulation</text>
<rect class="m1" x="603.5" y="1523.5" width="6" height="6.5"/><text class="lg" x="612" y="1531">Moderately up-regulation</text>
<rect class="m2" x="415" y="1554" width="6.5" height="7"/><text class="lg" x="424" y="1562">Down-regulation</text>
<rect class="m3" x="603.5" y="1554.5" width="6" height="6.5"/><text class="lg" x="612" y="1562">Moderately down-regulation</text>

<rect class="c0" x="808" y="1521" width="6.5" height="7"/><text class="lg" x="817" y="1529">Up-regulation</text>
<rect class="c1" x="997.5" y="1521.5" width="6" height="6.5"/><text class="lg" x="1006" y="1529">Moderately up-regulation</text>
<rect class="c2" x="808" y="1548" width="6.5" height="7"/><text class="lg" x="817" y="1556">Down-regulation</text>
<rect class="c3" x="997.5" y="1548.5" width="6" height="6.5"/><text class="lg" x="1006" y="1556">Moderately down-regulation</text>
</g>
</svg>
</body></html>
